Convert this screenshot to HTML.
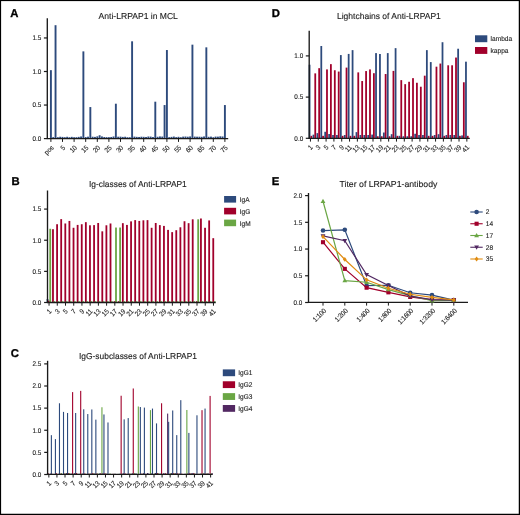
<!DOCTYPE html>
<html><head><meta charset="utf-8"><style>
html,body{margin:0;padding:0;background:#fff;}
svg{display:block;will-change:transform;}
</style></head><body>
<svg width="520" height="515" viewBox="0 0 520 515" font-family="Liberation Sans, sans-serif">
<rect x="0" y="0" width="520" height="515" fill="#000"/>
<rect x="1.1" y="1.1" width="517.65" height="512.65" fill="#fff"/>
<text x="10.30" y="17.00" font-size="11.3" text-anchor="start" text-rendering="geometricPrecision" font-weight="bold" fill="#000" stroke="#000" stroke-width="0.3">A</text>
<text x="98.60" y="19.00" font-size="8.6" text-anchor="start" text-rendering="geometricPrecision" font-weight="normal" fill="#222" textLength="79.3" lengthAdjust="spacingAndGlyphs" stroke="#222" stroke-width="0.12">Anti-LRPAP1 in MCL</text>
<rect x="49.95" y="70.16" width="1.90" height="68.44" fill="#2d4a7c"/>
<rect x="52.27" y="137.12" width="1.90" height="1.48" fill="#2d4a7c"/>
<rect x="54.59" y="25.20" width="1.90" height="113.40" fill="#2d4a7c"/>
<rect x="56.91" y="137.19" width="1.90" height="1.41" fill="#2d4a7c"/>
<rect x="59.23" y="136.75" width="1.90" height="1.85" fill="#2d4a7c"/>
<rect x="61.55" y="136.91" width="1.90" height="1.69" fill="#2d4a7c"/>
<rect x="63.87" y="137.20" width="1.90" height="1.40" fill="#2d4a7c"/>
<rect x="66.19" y="136.78" width="1.90" height="1.82" fill="#2d4a7c"/>
<rect x="68.51" y="137.22" width="1.90" height="1.38" fill="#2d4a7c"/>
<rect x="70.83" y="136.85" width="1.90" height="1.75" fill="#2d4a7c"/>
<rect x="73.15" y="137.19" width="1.90" height="1.41" fill="#2d4a7c"/>
<rect x="75.47" y="137.17" width="1.90" height="1.43" fill="#2d4a7c"/>
<rect x="77.79" y="136.86" width="1.90" height="1.74" fill="#2d4a7c"/>
<rect x="80.11" y="136.48" width="1.90" height="2.12" fill="#2d4a7c"/>
<rect x="82.43" y="51.37" width="1.90" height="87.23" fill="#2d4a7c"/>
<rect x="84.75" y="137.05" width="1.90" height="1.55" fill="#2d4a7c"/>
<rect x="87.07" y="136.67" width="1.90" height="1.93" fill="#2d4a7c"/>
<rect x="89.39" y="107.06" width="1.90" height="31.54" fill="#2d4a7c"/>
<rect x="91.71" y="136.72" width="1.90" height="1.88" fill="#2d4a7c"/>
<rect x="94.03" y="136.89" width="1.90" height="1.71" fill="#2d4a7c"/>
<rect x="96.35" y="136.34" width="1.90" height="2.26" fill="#2d4a7c"/>
<rect x="98.67" y="135.25" width="1.90" height="3.35" fill="#2d4a7c"/>
<rect x="100.99" y="136.45" width="1.90" height="2.15" fill="#2d4a7c"/>
<rect x="103.31" y="136.99" width="1.90" height="1.61" fill="#2d4a7c"/>
<rect x="105.63" y="137.12" width="1.90" height="1.48" fill="#2d4a7c"/>
<rect x="107.95" y="137.15" width="1.90" height="1.45" fill="#2d4a7c"/>
<rect x="110.27" y="136.97" width="1.90" height="1.63" fill="#2d4a7c"/>
<rect x="112.59" y="136.49" width="1.90" height="2.11" fill="#2d4a7c"/>
<rect x="114.91" y="103.71" width="1.90" height="34.89" fill="#2d4a7c"/>
<rect x="117.23" y="136.71" width="1.90" height="1.89" fill="#2d4a7c"/>
<rect x="119.55" y="136.66" width="1.90" height="1.94" fill="#2d4a7c"/>
<rect x="121.87" y="136.91" width="1.90" height="1.69" fill="#2d4a7c"/>
<rect x="124.19" y="136.74" width="1.90" height="1.86" fill="#2d4a7c"/>
<rect x="126.51" y="137.20" width="1.90" height="1.40" fill="#2d4a7c"/>
<rect x="128.83" y="137.20" width="1.90" height="1.40" fill="#2d4a7c"/>
<rect x="131.15" y="41.31" width="1.90" height="97.29" fill="#2d4a7c"/>
<rect x="133.47" y="136.62" width="1.90" height="1.98" fill="#2d4a7c"/>
<rect x="135.79" y="136.86" width="1.90" height="1.74" fill="#2d4a7c"/>
<rect x="138.11" y="136.96" width="1.90" height="1.64" fill="#2d4a7c"/>
<rect x="140.43" y="136.71" width="1.90" height="1.89" fill="#2d4a7c"/>
<rect x="142.75" y="136.83" width="1.90" height="1.77" fill="#2d4a7c"/>
<rect x="145.07" y="136.98" width="1.90" height="1.62" fill="#2d4a7c"/>
<rect x="147.39" y="136.51" width="1.90" height="2.09" fill="#2d4a7c"/>
<rect x="149.71" y="136.60" width="1.90" height="2.00" fill="#2d4a7c"/>
<rect x="152.03" y="137.03" width="1.90" height="1.57" fill="#2d4a7c"/>
<rect x="154.35" y="101.69" width="1.90" height="36.91" fill="#2d4a7c"/>
<rect x="156.67" y="136.76" width="1.90" height="1.84" fill="#2d4a7c"/>
<rect x="158.99" y="136.44" width="1.90" height="2.16" fill="#2d4a7c"/>
<rect x="161.31" y="136.57" width="1.90" height="2.03" fill="#2d4a7c"/>
<rect x="163.63" y="105.05" width="1.90" height="33.55" fill="#2d4a7c"/>
<rect x="165.95" y="50.03" width="1.90" height="88.57" fill="#2d4a7c"/>
<rect x="168.27" y="137.15" width="1.90" height="1.45" fill="#2d4a7c"/>
<rect x="170.59" y="136.87" width="1.90" height="1.73" fill="#2d4a7c"/>
<rect x="172.91" y="136.55" width="1.90" height="2.05" fill="#2d4a7c"/>
<rect x="175.23" y="137.12" width="1.90" height="1.48" fill="#2d4a7c"/>
<rect x="177.55" y="136.80" width="1.90" height="1.80" fill="#2d4a7c"/>
<rect x="179.87" y="137.22" width="1.90" height="1.38" fill="#2d4a7c"/>
<rect x="182.19" y="136.63" width="1.90" height="1.97" fill="#2d4a7c"/>
<rect x="184.51" y="136.54" width="1.90" height="2.06" fill="#2d4a7c"/>
<rect x="186.83" y="136.72" width="1.90" height="1.88" fill="#2d4a7c"/>
<rect x="189.15" y="136.44" width="1.90" height="2.16" fill="#2d4a7c"/>
<rect x="191.47" y="44.66" width="1.90" height="93.94" fill="#2d4a7c"/>
<rect x="193.79" y="136.60" width="1.90" height="2.00" fill="#2d4a7c"/>
<rect x="196.11" y="136.70" width="1.90" height="1.90" fill="#2d4a7c"/>
<rect x="198.43" y="136.71" width="1.90" height="1.89" fill="#2d4a7c"/>
<rect x="200.75" y="136.83" width="1.90" height="1.77" fill="#2d4a7c"/>
<rect x="203.07" y="136.47" width="1.90" height="2.13" fill="#2d4a7c"/>
<rect x="205.39" y="47.34" width="1.90" height="91.26" fill="#2d4a7c"/>
<rect x="207.71" y="136.81" width="1.90" height="1.79" fill="#2d4a7c"/>
<rect x="210.03" y="136.63" width="1.90" height="1.97" fill="#2d4a7c"/>
<rect x="212.35" y="137.20" width="1.90" height="1.40" fill="#2d4a7c"/>
<rect x="214.67" y="136.60" width="1.90" height="2.00" fill="#2d4a7c"/>
<rect x="216.99" y="136.65" width="1.90" height="1.95" fill="#2d4a7c"/>
<rect x="219.31" y="136.33" width="1.90" height="2.27" fill="#2d4a7c"/>
<rect x="221.63" y="136.49" width="1.90" height="2.11" fill="#2d4a7c"/>
<rect x="223.95" y="105.05" width="1.90" height="33.55" fill="#2d4a7c"/>
<line x1="47.30" y1="18.30" x2="47.30" y2="139.10" stroke="#1a1a1a" stroke-width="1.35"/>
<line x1="43.90" y1="138.60" x2="47.30" y2="138.60" stroke="#1a1a1a" stroke-width="1.2"/>
<text transform="translate(41.40 140.90) scale(0.92 1)" font-size="6.9" text-anchor="end" text-rendering="geometricPrecision" font-weight="normal" fill="#222" stroke="#222" stroke-width="0.12">0.0</text>
<line x1="43.90" y1="105.05" x2="47.30" y2="105.05" stroke="#1a1a1a" stroke-width="1.2"/>
<text transform="translate(41.40 107.35) scale(0.92 1)" font-size="6.9" text-anchor="end" text-rendering="geometricPrecision" font-weight="normal" fill="#222" stroke="#222" stroke-width="0.12">0.5</text>
<line x1="43.90" y1="71.50" x2="47.30" y2="71.50" stroke="#1a1a1a" stroke-width="1.2"/>
<text transform="translate(41.40 73.80) scale(0.92 1)" font-size="6.9" text-anchor="end" text-rendering="geometricPrecision" font-weight="normal" fill="#222" stroke="#222" stroke-width="0.12">1.0</text>
<line x1="43.90" y1="37.95" x2="47.30" y2="37.95" stroke="#1a1a1a" stroke-width="1.2"/>
<text transform="translate(41.40 40.25) scale(0.92 1)" font-size="6.9" text-anchor="end" text-rendering="geometricPrecision" font-weight="normal" fill="#222" stroke="#222" stroke-width="0.12">1.5</text>
<line x1="46.80" y1="138.60" x2="228.20" y2="138.60" stroke="#1a1a1a" stroke-width="1.35"/>
<line x1="50.90" y1="138.60" x2="50.90" y2="141.90" stroke="#1a1a1a" stroke-width="1"/>
<text font-size="6.9" text-anchor="end" text-rendering="geometricPrecision" fill="#222" stroke="#222" stroke-width="0.12" transform="translate(54.20 148.20) rotate(-45) scale(0.9 1)">pos</text>
<line x1="62.50" y1="138.60" x2="62.50" y2="141.90" stroke="#1a1a1a" stroke-width="1"/>
<text font-size="6.9" text-anchor="end" text-rendering="geometricPrecision" fill="#222" stroke="#222" stroke-width="0.12" transform="translate(65.80 148.20) rotate(-45) scale(0.9 1)">5</text>
<line x1="74.10" y1="138.60" x2="74.10" y2="141.90" stroke="#1a1a1a" stroke-width="1"/>
<text font-size="6.9" text-anchor="end" text-rendering="geometricPrecision" fill="#222" stroke="#222" stroke-width="0.12" transform="translate(77.40 148.20) rotate(-45) scale(0.9 1)">10</text>
<line x1="85.70" y1="138.60" x2="85.70" y2="141.90" stroke="#1a1a1a" stroke-width="1"/>
<text font-size="6.9" text-anchor="end" text-rendering="geometricPrecision" fill="#222" stroke="#222" stroke-width="0.12" transform="translate(89.00 148.20) rotate(-45) scale(0.9 1)">15</text>
<line x1="97.30" y1="138.60" x2="97.30" y2="141.90" stroke="#1a1a1a" stroke-width="1"/>
<text font-size="6.9" text-anchor="end" text-rendering="geometricPrecision" fill="#222" stroke="#222" stroke-width="0.12" transform="translate(100.60 148.20) rotate(-45) scale(0.9 1)">20</text>
<line x1="108.90" y1="138.60" x2="108.90" y2="141.90" stroke="#1a1a1a" stroke-width="1"/>
<text font-size="6.9" text-anchor="end" text-rendering="geometricPrecision" fill="#222" stroke="#222" stroke-width="0.12" transform="translate(112.20 148.20) rotate(-45) scale(0.9 1)">25</text>
<line x1="120.50" y1="138.60" x2="120.50" y2="141.90" stroke="#1a1a1a" stroke-width="1"/>
<text font-size="6.9" text-anchor="end" text-rendering="geometricPrecision" fill="#222" stroke="#222" stroke-width="0.12" transform="translate(123.80 148.20) rotate(-45) scale(0.9 1)">30</text>
<line x1="132.10" y1="138.60" x2="132.10" y2="141.90" stroke="#1a1a1a" stroke-width="1"/>
<text font-size="6.9" text-anchor="end" text-rendering="geometricPrecision" fill="#222" stroke="#222" stroke-width="0.12" transform="translate(135.40 148.20) rotate(-45) scale(0.9 1)">35</text>
<line x1="143.70" y1="138.60" x2="143.70" y2="141.90" stroke="#1a1a1a" stroke-width="1"/>
<text font-size="6.9" text-anchor="end" text-rendering="geometricPrecision" fill="#222" stroke="#222" stroke-width="0.12" transform="translate(147.00 148.20) rotate(-45) scale(0.9 1)">40</text>
<line x1="155.30" y1="138.60" x2="155.30" y2="141.90" stroke="#1a1a1a" stroke-width="1"/>
<text font-size="6.9" text-anchor="end" text-rendering="geometricPrecision" fill="#222" stroke="#222" stroke-width="0.12" transform="translate(158.60 148.20) rotate(-45) scale(0.9 1)">45</text>
<line x1="166.90" y1="138.60" x2="166.90" y2="141.90" stroke="#1a1a1a" stroke-width="1"/>
<text font-size="6.9" text-anchor="end" text-rendering="geometricPrecision" fill="#222" stroke="#222" stroke-width="0.12" transform="translate(170.20 148.20) rotate(-45) scale(0.9 1)">50</text>
<line x1="178.50" y1="138.60" x2="178.50" y2="141.90" stroke="#1a1a1a" stroke-width="1"/>
<text font-size="6.9" text-anchor="end" text-rendering="geometricPrecision" fill="#222" stroke="#222" stroke-width="0.12" transform="translate(181.80 148.20) rotate(-45) scale(0.9 1)">55</text>
<line x1="190.10" y1="138.60" x2="190.10" y2="141.90" stroke="#1a1a1a" stroke-width="1"/>
<text font-size="6.9" text-anchor="end" text-rendering="geometricPrecision" fill="#222" stroke="#222" stroke-width="0.12" transform="translate(193.40 148.20) rotate(-45) scale(0.9 1)">60</text>
<line x1="201.70" y1="138.60" x2="201.70" y2="141.90" stroke="#1a1a1a" stroke-width="1"/>
<text font-size="6.9" text-anchor="end" text-rendering="geometricPrecision" fill="#222" stroke="#222" stroke-width="0.12" transform="translate(205.00 148.20) rotate(-45) scale(0.9 1)">65</text>
<line x1="213.30" y1="138.60" x2="213.30" y2="141.90" stroke="#1a1a1a" stroke-width="1"/>
<text font-size="6.9" text-anchor="end" text-rendering="geometricPrecision" fill="#222" stroke="#222" stroke-width="0.12" transform="translate(216.60 148.20) rotate(-45) scale(0.9 1)">70</text>
<line x1="224.90" y1="138.60" x2="224.90" y2="141.90" stroke="#1a1a1a" stroke-width="1"/>
<text font-size="6.9" text-anchor="end" text-rendering="geometricPrecision" fill="#222" stroke="#222" stroke-width="0.12" transform="translate(228.20 148.20) rotate(-45) scale(0.9 1)">75</text>
<text x="271.80" y="17.00" font-size="11.3" text-anchor="start" text-rendering="geometricPrecision" font-weight="bold" fill="#000" stroke="#000" stroke-width="0.3">D</text>
<text x="337.00" y="18.70" font-size="8.6" text-anchor="start" text-rendering="geometricPrecision" font-weight="normal" fill="#222" textLength="103.8" lengthAdjust="spacingAndGlyphs" stroke="#222" stroke-width="0.12">Lightchains of Anti-LRPAP1</text>
<rect x="308.67" y="64.72" width="1.78" height="73.58" fill="#2d4a7c"/>
<rect x="310.45" y="135.83" width="1.78" height="2.47" fill="#a1002b"/>
<rect x="312.58" y="134.67" width="1.78" height="3.63" fill="#2d4a7c"/>
<rect x="314.36" y="73.37" width="1.78" height="64.93" fill="#a1002b"/>
<rect x="316.49" y="133.11" width="1.78" height="5.19" fill="#2d4a7c"/>
<rect x="318.27" y="68.18" width="1.78" height="70.12" fill="#a1002b"/>
<rect x="320.40" y="46.01" width="1.78" height="92.29" fill="#2d4a7c"/>
<rect x="322.18" y="135.83" width="1.78" height="2.47" fill="#a1002b"/>
<rect x="324.31" y="131.79" width="1.78" height="6.51" fill="#2d4a7c"/>
<rect x="326.09" y="69.41" width="1.78" height="68.89" fill="#a1002b"/>
<rect x="328.22" y="134.02" width="1.78" height="4.28" fill="#2d4a7c"/>
<rect x="330.00" y="64.14" width="1.78" height="74.16" fill="#a1002b"/>
<rect x="332.13" y="135.00" width="1.78" height="3.30" fill="#2d4a7c"/>
<rect x="333.91" y="70.24" width="1.78" height="68.06" fill="#a1002b"/>
<rect x="336.04" y="135.00" width="1.78" height="3.30" fill="#2d4a7c"/>
<rect x="337.82" y="71.56" width="1.78" height="66.74" fill="#a1002b"/>
<rect x="339.95" y="55.08" width="1.78" height="83.22" fill="#2d4a7c"/>
<rect x="341.73" y="135.83" width="1.78" height="2.47" fill="#a1002b"/>
<rect x="343.86" y="135.00" width="1.78" height="3.30" fill="#2d4a7c"/>
<rect x="345.64" y="67.60" width="1.78" height="70.70" fill="#a1002b"/>
<rect x="347.77" y="53.92" width="1.78" height="84.38" fill="#2d4a7c"/>
<rect x="349.55" y="135.83" width="1.78" height="2.47" fill="#a1002b"/>
<rect x="351.68" y="50.13" width="1.78" height="88.17" fill="#2d4a7c"/>
<rect x="353.46" y="135.83" width="1.78" height="2.47" fill="#a1002b"/>
<rect x="355.59" y="132.12" width="1.78" height="6.18" fill="#2d4a7c"/>
<rect x="357.37" y="72.38" width="1.78" height="65.92" fill="#a1002b"/>
<rect x="359.50" y="135.00" width="1.78" height="3.30" fill="#2d4a7c"/>
<rect x="361.28" y="81.03" width="1.78" height="57.27" fill="#a1002b"/>
<rect x="363.41" y="135.00" width="1.78" height="3.30" fill="#2d4a7c"/>
<rect x="365.19" y="71.06" width="1.78" height="67.24" fill="#a1002b"/>
<rect x="367.32" y="135.00" width="1.78" height="3.30" fill="#2d4a7c"/>
<rect x="369.10" y="69.41" width="1.78" height="68.89" fill="#a1002b"/>
<rect x="371.23" y="134.59" width="1.78" height="3.71" fill="#2d4a7c"/>
<rect x="373.01" y="73.20" width="1.78" height="65.10" fill="#a1002b"/>
<rect x="375.14" y="53.10" width="1.78" height="85.20" fill="#2d4a7c"/>
<rect x="376.92" y="136.24" width="1.78" height="2.06" fill="#a1002b"/>
<rect x="379.05" y="54.00" width="1.78" height="84.30" fill="#2d4a7c"/>
<rect x="380.83" y="136.24" width="1.78" height="2.06" fill="#a1002b"/>
<rect x="382.96" y="132.53" width="1.78" height="5.77" fill="#2d4a7c"/>
<rect x="384.74" y="74.03" width="1.78" height="64.27" fill="#a1002b"/>
<rect x="386.87" y="53.10" width="1.78" height="85.20" fill="#2d4a7c"/>
<rect x="388.65" y="136.24" width="1.78" height="2.06" fill="#a1002b"/>
<rect x="390.78" y="134.18" width="1.78" height="4.12" fill="#2d4a7c"/>
<rect x="392.56" y="70.90" width="1.78" height="67.40" fill="#a1002b"/>
<rect x="394.69" y="48.15" width="1.78" height="90.15" fill="#2d4a7c"/>
<rect x="396.47" y="135.83" width="1.78" height="2.47" fill="#a1002b"/>
<rect x="398.60" y="135.83" width="1.78" height="2.47" fill="#2d4a7c"/>
<rect x="400.38" y="80.13" width="1.78" height="58.17" fill="#a1002b"/>
<rect x="402.51" y="136.24" width="1.78" height="2.06" fill="#2d4a7c"/>
<rect x="404.29" y="84.16" width="1.78" height="54.14" fill="#a1002b"/>
<rect x="406.42" y="136.24" width="1.78" height="2.06" fill="#2d4a7c"/>
<rect x="408.20" y="81.77" width="1.78" height="56.53" fill="#a1002b"/>
<rect x="410.33" y="136.24" width="1.78" height="2.06" fill="#2d4a7c"/>
<rect x="412.11" y="78.15" width="1.78" height="60.15" fill="#a1002b"/>
<rect x="414.24" y="133.77" width="1.78" height="4.53" fill="#2d4a7c"/>
<rect x="416.02" y="82.76" width="1.78" height="55.54" fill="#a1002b"/>
<rect x="418.15" y="135.00" width="1.78" height="3.30" fill="#2d4a7c"/>
<rect x="419.93" y="86.72" width="1.78" height="51.58" fill="#a1002b"/>
<rect x="422.06" y="135.00" width="1.78" height="3.30" fill="#2d4a7c"/>
<rect x="423.84" y="75.68" width="1.78" height="62.62" fill="#a1002b"/>
<rect x="425.97" y="50.13" width="1.78" height="88.17" fill="#2d4a7c"/>
<rect x="427.75" y="135.83" width="1.78" height="2.47" fill="#a1002b"/>
<rect x="429.88" y="62.08" width="1.78" height="76.22" fill="#2d4a7c"/>
<rect x="431.66" y="135.83" width="1.78" height="2.47" fill="#a1002b"/>
<rect x="433.79" y="135.00" width="1.78" height="3.30" fill="#2d4a7c"/>
<rect x="435.57" y="66.69" width="1.78" height="71.61" fill="#a1002b"/>
<rect x="437.70" y="134.18" width="1.78" height="4.12" fill="#2d4a7c"/>
<rect x="439.48" y="63.56" width="1.78" height="74.74" fill="#a1002b"/>
<rect x="441.61" y="42.22" width="1.78" height="96.08" fill="#2d4a7c"/>
<rect x="443.39" y="135.83" width="1.78" height="2.47" fill="#a1002b"/>
<rect x="445.52" y="135.00" width="1.78" height="3.30" fill="#2d4a7c"/>
<rect x="447.30" y="65.29" width="1.78" height="73.01" fill="#a1002b"/>
<rect x="449.43" y="135.00" width="1.78" height="3.30" fill="#2d4a7c"/>
<rect x="451.21" y="65.29" width="1.78" height="73.01" fill="#a1002b"/>
<rect x="453.34" y="135.00" width="1.78" height="3.30" fill="#2d4a7c"/>
<rect x="455.12" y="57.55" width="1.78" height="80.75" fill="#a1002b"/>
<rect x="457.25" y="48.73" width="1.78" height="89.57" fill="#2d4a7c"/>
<rect x="459.03" y="135.83" width="1.78" height="2.47" fill="#a1002b"/>
<rect x="461.16" y="135.42" width="1.78" height="2.88" fill="#2d4a7c"/>
<rect x="462.94" y="82.27" width="1.78" height="56.03" fill="#a1002b"/>
<rect x="465.07" y="61.67" width="1.78" height="76.63" fill="#2d4a7c"/>
<rect x="466.85" y="135.83" width="1.78" height="2.47" fill="#a1002b"/>
<line x1="309.20" y1="30.80" x2="309.20" y2="138.80" stroke="#1a1a1a" stroke-width="1.35"/>
<line x1="305.80" y1="138.30" x2="309.20" y2="138.30" stroke="#1a1a1a" stroke-width="1.2"/>
<text transform="translate(303.20 140.60) scale(0.92 1)" font-size="6.9" text-anchor="end" text-rendering="geometricPrecision" font-weight="normal" fill="#222" stroke="#222" stroke-width="0.12">0.0</text>
<line x1="305.80" y1="97.10" x2="309.20" y2="97.10" stroke="#1a1a1a" stroke-width="1.2"/>
<text transform="translate(303.20 99.40) scale(0.92 1)" font-size="6.9" text-anchor="end" text-rendering="geometricPrecision" font-weight="normal" fill="#222" stroke="#222" stroke-width="0.12">0.5</text>
<line x1="305.80" y1="55.90" x2="309.20" y2="55.90" stroke="#1a1a1a" stroke-width="1.2"/>
<text transform="translate(303.20 58.20) scale(0.92 1)" font-size="6.9" text-anchor="end" text-rendering="geometricPrecision" font-weight="normal" fill="#222" stroke="#222" stroke-width="0.12">1.0</text>
<line x1="308.70" y1="138.40" x2="469.80" y2="138.40" stroke="#1a1a1a" stroke-width="1.35"/>
<line x1="310.45" y1="138.40" x2="310.45" y2="141.60" stroke="#1a1a1a" stroke-width="1"/>
<text font-size="6.9" text-anchor="end" text-rendering="geometricPrecision" fill="#222" stroke="#222" stroke-width="0.12" transform="translate(313.25 147.80) rotate(-45) scale(0.9 1)">1</text>
<line x1="318.27" y1="138.40" x2="318.27" y2="141.60" stroke="#1a1a1a" stroke-width="1"/>
<text font-size="6.9" text-anchor="end" text-rendering="geometricPrecision" fill="#222" stroke="#222" stroke-width="0.12" transform="translate(321.07 147.80) rotate(-45) scale(0.9 1)">3</text>
<line x1="326.09" y1="138.40" x2="326.09" y2="141.60" stroke="#1a1a1a" stroke-width="1"/>
<text font-size="6.9" text-anchor="end" text-rendering="geometricPrecision" fill="#222" stroke="#222" stroke-width="0.12" transform="translate(328.89 147.80) rotate(-45) scale(0.9 1)">5</text>
<line x1="333.91" y1="138.40" x2="333.91" y2="141.60" stroke="#1a1a1a" stroke-width="1"/>
<text font-size="6.9" text-anchor="end" text-rendering="geometricPrecision" fill="#222" stroke="#222" stroke-width="0.12" transform="translate(336.71 147.80) rotate(-45) scale(0.9 1)">7</text>
<line x1="341.73" y1="138.40" x2="341.73" y2="141.60" stroke="#1a1a1a" stroke-width="1"/>
<text font-size="6.9" text-anchor="end" text-rendering="geometricPrecision" fill="#222" stroke="#222" stroke-width="0.12" transform="translate(344.53 147.80) rotate(-45) scale(0.9 1)">9</text>
<line x1="349.55" y1="138.40" x2="349.55" y2="141.60" stroke="#1a1a1a" stroke-width="1"/>
<text font-size="6.9" text-anchor="end" text-rendering="geometricPrecision" fill="#222" stroke="#222" stroke-width="0.12" transform="translate(352.35 147.80) rotate(-45) scale(0.9 1)">11</text>
<line x1="357.37" y1="138.40" x2="357.37" y2="141.60" stroke="#1a1a1a" stroke-width="1"/>
<text font-size="6.9" text-anchor="end" text-rendering="geometricPrecision" fill="#222" stroke="#222" stroke-width="0.12" transform="translate(360.17 147.80) rotate(-45) scale(0.9 1)">13</text>
<line x1="365.19" y1="138.40" x2="365.19" y2="141.60" stroke="#1a1a1a" stroke-width="1"/>
<text font-size="6.9" text-anchor="end" text-rendering="geometricPrecision" fill="#222" stroke="#222" stroke-width="0.12" transform="translate(367.99 147.80) rotate(-45) scale(0.9 1)">15</text>
<line x1="373.01" y1="138.40" x2="373.01" y2="141.60" stroke="#1a1a1a" stroke-width="1"/>
<text font-size="6.9" text-anchor="end" text-rendering="geometricPrecision" fill="#222" stroke="#222" stroke-width="0.12" transform="translate(375.81 147.80) rotate(-45) scale(0.9 1)">17</text>
<line x1="380.83" y1="138.40" x2="380.83" y2="141.60" stroke="#1a1a1a" stroke-width="1"/>
<text font-size="6.9" text-anchor="end" text-rendering="geometricPrecision" fill="#222" stroke="#222" stroke-width="0.12" transform="translate(383.63 147.80) rotate(-45) scale(0.9 1)">19</text>
<line x1="388.65" y1="138.40" x2="388.65" y2="141.60" stroke="#1a1a1a" stroke-width="1"/>
<text font-size="6.9" text-anchor="end" text-rendering="geometricPrecision" fill="#222" stroke="#222" stroke-width="0.12" transform="translate(391.45 147.80) rotate(-45) scale(0.9 1)">21</text>
<line x1="396.47" y1="138.40" x2="396.47" y2="141.60" stroke="#1a1a1a" stroke-width="1"/>
<text font-size="6.9" text-anchor="end" text-rendering="geometricPrecision" fill="#222" stroke="#222" stroke-width="0.12" transform="translate(399.27 147.80) rotate(-45) scale(0.9 1)">23</text>
<line x1="404.29" y1="138.40" x2="404.29" y2="141.60" stroke="#1a1a1a" stroke-width="1"/>
<text font-size="6.9" text-anchor="end" text-rendering="geometricPrecision" fill="#222" stroke="#222" stroke-width="0.12" transform="translate(407.09 147.80) rotate(-45) scale(0.9 1)">25</text>
<line x1="412.11" y1="138.40" x2="412.11" y2="141.60" stroke="#1a1a1a" stroke-width="1"/>
<text font-size="6.9" text-anchor="end" text-rendering="geometricPrecision" fill="#222" stroke="#222" stroke-width="0.12" transform="translate(414.91 147.80) rotate(-45) scale(0.9 1)">27</text>
<line x1="419.93" y1="138.40" x2="419.93" y2="141.60" stroke="#1a1a1a" stroke-width="1"/>
<text font-size="6.9" text-anchor="end" text-rendering="geometricPrecision" fill="#222" stroke="#222" stroke-width="0.12" transform="translate(422.73 147.80) rotate(-45) scale(0.9 1)">29</text>
<line x1="427.75" y1="138.40" x2="427.75" y2="141.60" stroke="#1a1a1a" stroke-width="1"/>
<text font-size="6.9" text-anchor="end" text-rendering="geometricPrecision" fill="#222" stroke="#222" stroke-width="0.12" transform="translate(430.55 147.80) rotate(-45) scale(0.9 1)">31</text>
<line x1="435.57" y1="138.40" x2="435.57" y2="141.60" stroke="#1a1a1a" stroke-width="1"/>
<text font-size="6.9" text-anchor="end" text-rendering="geometricPrecision" fill="#222" stroke="#222" stroke-width="0.12" transform="translate(438.37 147.80) rotate(-45) scale(0.9 1)">33</text>
<line x1="443.39" y1="138.40" x2="443.39" y2="141.60" stroke="#1a1a1a" stroke-width="1"/>
<text font-size="6.9" text-anchor="end" text-rendering="geometricPrecision" fill="#222" stroke="#222" stroke-width="0.12" transform="translate(446.19 147.80) rotate(-45) scale(0.9 1)">35</text>
<line x1="451.21" y1="138.40" x2="451.21" y2="141.60" stroke="#1a1a1a" stroke-width="1"/>
<text font-size="6.9" text-anchor="end" text-rendering="geometricPrecision" fill="#222" stroke="#222" stroke-width="0.12" transform="translate(454.01 147.80) rotate(-45) scale(0.9 1)">37</text>
<line x1="459.03" y1="138.40" x2="459.03" y2="141.60" stroke="#1a1a1a" stroke-width="1"/>
<text font-size="6.9" text-anchor="end" text-rendering="geometricPrecision" fill="#222" stroke="#222" stroke-width="0.12" transform="translate(461.83 147.80) rotate(-45) scale(0.9 1)">39</text>
<line x1="466.85" y1="138.40" x2="466.85" y2="141.60" stroke="#1a1a1a" stroke-width="1"/>
<text font-size="6.9" text-anchor="end" text-rendering="geometricPrecision" fill="#222" stroke="#222" stroke-width="0.12" transform="translate(469.65 147.80) rotate(-45) scale(0.9 1)">41</text>
<rect x="475.00" y="35.30" width="12.30" height="6.90" fill="#2d4a7c"/>
<text transform="translate(490.60 41.20) scale(0.95 1)" font-size="6.9" text-anchor="start" text-rendering="geometricPrecision" font-weight="normal" fill="#222" stroke="#222" stroke-width="0.12">lambda</text>
<rect x="475.00" y="47.00" width="12.30" height="6.90" fill="#a1002b"/>
<text transform="translate(490.60 52.90) scale(0.95 1)" font-size="6.9" text-anchor="start" text-rendering="geometricPrecision" font-weight="normal" fill="#222" stroke="#222" stroke-width="0.12">kappa</text>
<text x="11.50" y="185.30" font-size="11.3" text-anchor="start" text-rendering="geometricPrecision" font-weight="bold" fill="#000" stroke="#000" stroke-width="0.3">B</text>
<text x="89.00" y="187.00" font-size="8.6" text-anchor="start" text-rendering="geometricPrecision" font-weight="normal" fill="#222" textLength="97.8" lengthAdjust="spacingAndGlyphs" stroke="#222" stroke-width="0.12">Ig-classes of Anti-LRPAP1</text>
<rect x="46.59" y="299.01" width="1.80" height="3.49" fill="#2d4a7c"/>
<rect x="47.96" y="300.63" width="1.80" height="1.87" fill="#a1002b"/>
<rect x="49.33" y="228.77" width="1.80" height="73.73" fill="#6aa644"/>
<rect x="50.70" y="302.00" width="1.80" height="0.50" fill="#2d4a7c"/>
<rect x="52.07" y="229.21" width="1.80" height="73.29" fill="#a1002b"/>
<rect x="53.44" y="301.25" width="1.80" height="1.25" fill="#6aa644"/>
<rect x="54.81" y="302.00" width="1.80" height="0.50" fill="#2d4a7c"/>
<rect x="56.18" y="224.23" width="1.80" height="78.27" fill="#a1002b"/>
<rect x="57.55" y="301.25" width="1.80" height="1.25" fill="#6aa644"/>
<rect x="58.92" y="302.00" width="1.80" height="0.50" fill="#2d4a7c"/>
<rect x="60.29" y="219.12" width="1.80" height="83.38" fill="#a1002b"/>
<rect x="61.66" y="301.25" width="1.80" height="1.25" fill="#6aa644"/>
<rect x="63.03" y="302.00" width="1.80" height="0.50" fill="#2d4a7c"/>
<rect x="64.40" y="223.48" width="1.80" height="79.02" fill="#a1002b"/>
<rect x="65.77" y="301.25" width="1.80" height="1.25" fill="#6aa644"/>
<rect x="67.14" y="302.00" width="1.80" height="0.50" fill="#2d4a7c"/>
<rect x="68.51" y="220.93" width="1.80" height="81.57" fill="#a1002b"/>
<rect x="69.88" y="301.25" width="1.80" height="1.25" fill="#6aa644"/>
<rect x="71.25" y="302.00" width="1.80" height="0.50" fill="#2d4a7c"/>
<rect x="72.62" y="227.78" width="1.80" height="74.72" fill="#a1002b"/>
<rect x="73.99" y="301.25" width="1.80" height="1.25" fill="#6aa644"/>
<rect x="75.36" y="302.00" width="1.80" height="0.50" fill="#2d4a7c"/>
<rect x="76.73" y="224.91" width="1.80" height="77.59" fill="#a1002b"/>
<rect x="78.10" y="301.25" width="1.80" height="1.25" fill="#6aa644"/>
<rect x="79.47" y="302.00" width="1.80" height="0.50" fill="#2d4a7c"/>
<rect x="80.84" y="224.23" width="1.80" height="78.27" fill="#a1002b"/>
<rect x="82.21" y="301.25" width="1.80" height="1.25" fill="#6aa644"/>
<rect x="83.58" y="302.00" width="1.80" height="0.50" fill="#2d4a7c"/>
<rect x="84.95" y="222.17" width="1.80" height="80.33" fill="#a1002b"/>
<rect x="86.32" y="301.25" width="1.80" height="1.25" fill="#6aa644"/>
<rect x="87.69" y="302.00" width="1.80" height="0.50" fill="#2d4a7c"/>
<rect x="89.06" y="225.29" width="1.80" height="77.21" fill="#a1002b"/>
<rect x="90.43" y="301.25" width="1.80" height="1.25" fill="#6aa644"/>
<rect x="91.80" y="302.00" width="1.80" height="0.50" fill="#2d4a7c"/>
<rect x="93.17" y="225.10" width="1.80" height="77.40" fill="#a1002b"/>
<rect x="94.54" y="301.25" width="1.80" height="1.25" fill="#6aa644"/>
<rect x="95.91" y="302.00" width="1.80" height="0.50" fill="#2d4a7c"/>
<rect x="97.28" y="222.98" width="1.80" height="79.52" fill="#a1002b"/>
<rect x="98.65" y="301.25" width="1.80" height="1.25" fill="#6aa644"/>
<rect x="100.02" y="302.00" width="1.80" height="0.50" fill="#2d4a7c"/>
<rect x="101.39" y="231.33" width="1.80" height="71.17" fill="#a1002b"/>
<rect x="102.76" y="301.25" width="1.80" height="1.25" fill="#6aa644"/>
<rect x="104.13" y="302.00" width="1.80" height="0.50" fill="#2d4a7c"/>
<rect x="105.50" y="225.29" width="1.80" height="77.21" fill="#a1002b"/>
<rect x="106.87" y="301.25" width="1.80" height="1.25" fill="#6aa644"/>
<rect x="108.24" y="302.00" width="1.80" height="0.50" fill="#2d4a7c"/>
<rect x="109.61" y="223.48" width="1.80" height="79.02" fill="#a1002b"/>
<rect x="110.98" y="301.25" width="1.80" height="1.25" fill="#6aa644"/>
<rect x="112.35" y="302.00" width="1.80" height="0.50" fill="#2d4a7c"/>
<rect x="113.72" y="301.25" width="1.80" height="1.25" fill="#a1002b"/>
<rect x="115.09" y="227.53" width="1.80" height="74.97" fill="#6aa644"/>
<rect x="116.46" y="302.00" width="1.80" height="0.50" fill="#2d4a7c"/>
<rect x="117.83" y="301.25" width="1.80" height="1.25" fill="#a1002b"/>
<rect x="119.20" y="227.53" width="1.80" height="74.97" fill="#6aa644"/>
<rect x="120.57" y="302.00" width="1.80" height="0.50" fill="#2d4a7c"/>
<rect x="121.94" y="223.17" width="1.80" height="79.33" fill="#a1002b"/>
<rect x="123.31" y="301.25" width="1.80" height="1.25" fill="#6aa644"/>
<rect x="124.68" y="302.00" width="1.80" height="0.50" fill="#2d4a7c"/>
<rect x="126.05" y="224.91" width="1.80" height="77.59" fill="#a1002b"/>
<rect x="127.42" y="301.25" width="1.80" height="1.25" fill="#6aa644"/>
<rect x="128.79" y="302.00" width="1.80" height="0.50" fill="#2d4a7c"/>
<rect x="130.16" y="221.36" width="1.80" height="81.14" fill="#a1002b"/>
<rect x="131.53" y="301.25" width="1.80" height="1.25" fill="#6aa644"/>
<rect x="132.90" y="302.00" width="1.80" height="0.50" fill="#2d4a7c"/>
<rect x="134.27" y="220.12" width="1.80" height="82.38" fill="#a1002b"/>
<rect x="135.64" y="301.25" width="1.80" height="1.25" fill="#6aa644"/>
<rect x="137.01" y="302.00" width="1.80" height="0.50" fill="#2d4a7c"/>
<rect x="138.38" y="220.93" width="1.80" height="81.57" fill="#a1002b"/>
<rect x="139.75" y="301.25" width="1.80" height="1.25" fill="#6aa644"/>
<rect x="141.12" y="302.00" width="1.80" height="0.50" fill="#2d4a7c"/>
<rect x="142.49" y="220.30" width="1.80" height="82.20" fill="#a1002b"/>
<rect x="143.86" y="301.25" width="1.80" height="1.25" fill="#6aa644"/>
<rect x="145.23" y="302.00" width="1.80" height="0.50" fill="#2d4a7c"/>
<rect x="146.60" y="220.12" width="1.80" height="82.38" fill="#a1002b"/>
<rect x="147.97" y="301.25" width="1.80" height="1.25" fill="#6aa644"/>
<rect x="149.34" y="302.00" width="1.80" height="0.50" fill="#2d4a7c"/>
<rect x="150.71" y="227.78" width="1.80" height="74.72" fill="#a1002b"/>
<rect x="152.08" y="301.25" width="1.80" height="1.25" fill="#6aa644"/>
<rect x="153.45" y="302.00" width="1.80" height="0.50" fill="#2d4a7c"/>
<rect x="154.82" y="222.98" width="1.80" height="79.52" fill="#a1002b"/>
<rect x="156.19" y="301.25" width="1.80" height="1.25" fill="#6aa644"/>
<rect x="157.56" y="302.00" width="1.80" height="0.50" fill="#2d4a7c"/>
<rect x="158.93" y="225.10" width="1.80" height="77.40" fill="#a1002b"/>
<rect x="160.30" y="301.25" width="1.80" height="1.25" fill="#6aa644"/>
<rect x="161.67" y="302.00" width="1.80" height="0.50" fill="#2d4a7c"/>
<rect x="163.04" y="225.91" width="1.80" height="76.59" fill="#a1002b"/>
<rect x="164.41" y="301.25" width="1.80" height="1.25" fill="#6aa644"/>
<rect x="165.78" y="302.00" width="1.80" height="0.50" fill="#2d4a7c"/>
<rect x="167.15" y="229.89" width="1.80" height="72.61" fill="#a1002b"/>
<rect x="168.52" y="301.25" width="1.80" height="1.25" fill="#6aa644"/>
<rect x="169.89" y="302.00" width="1.80" height="0.50" fill="#2d4a7c"/>
<rect x="171.26" y="232.13" width="1.80" height="70.37" fill="#a1002b"/>
<rect x="172.63" y="301.25" width="1.80" height="1.25" fill="#6aa644"/>
<rect x="174.00" y="302.00" width="1.80" height="0.50" fill="#2d4a7c"/>
<rect x="175.37" y="230.20" width="1.80" height="72.30" fill="#a1002b"/>
<rect x="176.74" y="301.25" width="1.80" height="1.25" fill="#6aa644"/>
<rect x="178.11" y="302.00" width="1.80" height="0.50" fill="#2d4a7c"/>
<rect x="179.48" y="227.28" width="1.80" height="75.22" fill="#a1002b"/>
<rect x="180.85" y="301.25" width="1.80" height="1.25" fill="#6aa644"/>
<rect x="182.22" y="302.00" width="1.80" height="0.50" fill="#2d4a7c"/>
<rect x="183.59" y="221.24" width="1.80" height="81.26" fill="#a1002b"/>
<rect x="184.96" y="301.25" width="1.80" height="1.25" fill="#6aa644"/>
<rect x="186.33" y="302.00" width="1.80" height="0.50" fill="#2d4a7c"/>
<rect x="187.70" y="223.17" width="1.80" height="79.33" fill="#a1002b"/>
<rect x="189.07" y="301.25" width="1.80" height="1.25" fill="#6aa644"/>
<rect x="190.44" y="302.00" width="1.80" height="0.50" fill="#2d4a7c"/>
<rect x="191.81" y="219.31" width="1.80" height="83.19" fill="#a1002b"/>
<rect x="193.18" y="301.25" width="1.80" height="1.25" fill="#6aa644"/>
<rect x="194.55" y="302.00" width="1.80" height="0.50" fill="#2d4a7c"/>
<rect x="195.92" y="301.25" width="1.80" height="1.25" fill="#a1002b"/>
<rect x="197.29" y="219.31" width="1.80" height="83.19" fill="#6aa644"/>
<rect x="198.66" y="302.00" width="1.80" height="0.50" fill="#2d4a7c"/>
<rect x="200.03" y="218.50" width="1.80" height="84.00" fill="#a1002b"/>
<rect x="201.40" y="301.25" width="1.80" height="1.25" fill="#6aa644"/>
<rect x="202.77" y="302.00" width="1.80" height="0.50" fill="#2d4a7c"/>
<rect x="204.14" y="227.78" width="1.80" height="74.72" fill="#a1002b"/>
<rect x="205.51" y="301.25" width="1.80" height="1.25" fill="#6aa644"/>
<rect x="206.88" y="302.00" width="1.80" height="0.50" fill="#2d4a7c"/>
<rect x="208.25" y="220.43" width="1.80" height="82.07" fill="#a1002b"/>
<rect x="209.62" y="301.25" width="1.80" height="1.25" fill="#6aa644"/>
<rect x="210.99" y="302.00" width="1.80" height="0.50" fill="#2d4a7c"/>
<rect x="212.36" y="238.18" width="1.80" height="64.32" fill="#a1002b"/>
<rect x="213.73" y="301.25" width="1.80" height="1.25" fill="#6aa644"/>
<line x1="47.50" y1="190.50" x2="47.50" y2="303.00" stroke="#1a1a1a" stroke-width="1.35"/>
<line x1="44.10" y1="302.50" x2="47.50" y2="302.50" stroke="#1a1a1a" stroke-width="1.2"/>
<text transform="translate(41.40 304.80) scale(0.92 1)" font-size="6.9" text-anchor="end" text-rendering="geometricPrecision" font-weight="normal" fill="#222" stroke="#222" stroke-width="0.12">0.0</text>
<line x1="44.10" y1="271.37" x2="47.50" y2="271.37" stroke="#1a1a1a" stroke-width="1.2"/>
<text transform="translate(41.40 273.67) scale(0.92 1)" font-size="6.9" text-anchor="end" text-rendering="geometricPrecision" font-weight="normal" fill="#222" stroke="#222" stroke-width="0.12">0.5</text>
<line x1="44.10" y1="240.23" x2="47.50" y2="240.23" stroke="#1a1a1a" stroke-width="1.2"/>
<text transform="translate(41.40 242.53) scale(0.92 1)" font-size="6.9" text-anchor="end" text-rendering="geometricPrecision" font-weight="normal" fill="#222" stroke="#222" stroke-width="0.12">1.0</text>
<line x1="44.10" y1="209.09" x2="47.50" y2="209.09" stroke="#1a1a1a" stroke-width="1.2"/>
<text transform="translate(41.40 211.40) scale(0.92 1)" font-size="6.9" text-anchor="end" text-rendering="geometricPrecision" font-weight="normal" fill="#222" stroke="#222" stroke-width="0.12">1.5</text>
<line x1="47.00" y1="302.50" x2="215.70" y2="302.50" stroke="#1a1a1a" stroke-width="1.35"/>
<line x1="49.06" y1="302.50" x2="49.06" y2="305.70" stroke="#1a1a1a" stroke-width="1"/>
<text font-size="6.9" text-anchor="end" text-rendering="geometricPrecision" fill="#222" stroke="#222" stroke-width="0.12" transform="translate(51.86 311.90) rotate(-45) scale(0.9 1)">1</text>
<line x1="57.28" y1="302.50" x2="57.28" y2="305.70" stroke="#1a1a1a" stroke-width="1"/>
<text font-size="6.9" text-anchor="end" text-rendering="geometricPrecision" fill="#222" stroke="#222" stroke-width="0.12" transform="translate(60.08 311.90) rotate(-45) scale(0.9 1)">3</text>
<line x1="65.50" y1="302.50" x2="65.50" y2="305.70" stroke="#1a1a1a" stroke-width="1"/>
<text font-size="6.9" text-anchor="end" text-rendering="geometricPrecision" fill="#222" stroke="#222" stroke-width="0.12" transform="translate(68.30 311.90) rotate(-45) scale(0.9 1)">5</text>
<line x1="73.72" y1="302.50" x2="73.72" y2="305.70" stroke="#1a1a1a" stroke-width="1"/>
<text font-size="6.9" text-anchor="end" text-rendering="geometricPrecision" fill="#222" stroke="#222" stroke-width="0.12" transform="translate(76.52 311.90) rotate(-45) scale(0.9 1)">7</text>
<line x1="81.94" y1="302.50" x2="81.94" y2="305.70" stroke="#1a1a1a" stroke-width="1"/>
<text font-size="6.9" text-anchor="end" text-rendering="geometricPrecision" fill="#222" stroke="#222" stroke-width="0.12" transform="translate(84.74 311.90) rotate(-45) scale(0.9 1)">9</text>
<line x1="90.16" y1="302.50" x2="90.16" y2="305.70" stroke="#1a1a1a" stroke-width="1"/>
<text font-size="6.9" text-anchor="end" text-rendering="geometricPrecision" fill="#222" stroke="#222" stroke-width="0.12" transform="translate(92.96 311.90) rotate(-45) scale(0.9 1)">11</text>
<line x1="98.38" y1="302.50" x2="98.38" y2="305.70" stroke="#1a1a1a" stroke-width="1"/>
<text font-size="6.9" text-anchor="end" text-rendering="geometricPrecision" fill="#222" stroke="#222" stroke-width="0.12" transform="translate(101.18 311.90) rotate(-45) scale(0.9 1)">13</text>
<line x1="106.60" y1="302.50" x2="106.60" y2="305.70" stroke="#1a1a1a" stroke-width="1"/>
<text font-size="6.9" text-anchor="end" text-rendering="geometricPrecision" fill="#222" stroke="#222" stroke-width="0.12" transform="translate(109.40 311.90) rotate(-45) scale(0.9 1)">15</text>
<line x1="114.82" y1="302.50" x2="114.82" y2="305.70" stroke="#1a1a1a" stroke-width="1"/>
<text font-size="6.9" text-anchor="end" text-rendering="geometricPrecision" fill="#222" stroke="#222" stroke-width="0.12" transform="translate(117.62 311.90) rotate(-45) scale(0.9 1)">17</text>
<line x1="123.04" y1="302.50" x2="123.04" y2="305.70" stroke="#1a1a1a" stroke-width="1"/>
<text font-size="6.9" text-anchor="end" text-rendering="geometricPrecision" fill="#222" stroke="#222" stroke-width="0.12" transform="translate(125.84 311.90) rotate(-45) scale(0.9 1)">19</text>
<line x1="131.26" y1="302.50" x2="131.26" y2="305.70" stroke="#1a1a1a" stroke-width="1"/>
<text font-size="6.9" text-anchor="end" text-rendering="geometricPrecision" fill="#222" stroke="#222" stroke-width="0.12" transform="translate(134.06 311.90) rotate(-45) scale(0.9 1)">21</text>
<line x1="139.48" y1="302.50" x2="139.48" y2="305.70" stroke="#1a1a1a" stroke-width="1"/>
<text font-size="6.9" text-anchor="end" text-rendering="geometricPrecision" fill="#222" stroke="#222" stroke-width="0.12" transform="translate(142.28 311.90) rotate(-45) scale(0.9 1)">23</text>
<line x1="147.70" y1="302.50" x2="147.70" y2="305.70" stroke="#1a1a1a" stroke-width="1"/>
<text font-size="6.9" text-anchor="end" text-rendering="geometricPrecision" fill="#222" stroke="#222" stroke-width="0.12" transform="translate(150.50 311.90) rotate(-45) scale(0.9 1)">25</text>
<line x1="155.92" y1="302.50" x2="155.92" y2="305.70" stroke="#1a1a1a" stroke-width="1"/>
<text font-size="6.9" text-anchor="end" text-rendering="geometricPrecision" fill="#222" stroke="#222" stroke-width="0.12" transform="translate(158.72 311.90) rotate(-45) scale(0.9 1)">27</text>
<line x1="164.14" y1="302.50" x2="164.14" y2="305.70" stroke="#1a1a1a" stroke-width="1"/>
<text font-size="6.9" text-anchor="end" text-rendering="geometricPrecision" fill="#222" stroke="#222" stroke-width="0.12" transform="translate(166.94 311.90) rotate(-45) scale(0.9 1)">29</text>
<line x1="172.36" y1="302.50" x2="172.36" y2="305.70" stroke="#1a1a1a" stroke-width="1"/>
<text font-size="6.9" text-anchor="end" text-rendering="geometricPrecision" fill="#222" stroke="#222" stroke-width="0.12" transform="translate(175.16 311.90) rotate(-45) scale(0.9 1)">31</text>
<line x1="180.58" y1="302.50" x2="180.58" y2="305.70" stroke="#1a1a1a" stroke-width="1"/>
<text font-size="6.9" text-anchor="end" text-rendering="geometricPrecision" fill="#222" stroke="#222" stroke-width="0.12" transform="translate(183.38 311.90) rotate(-45) scale(0.9 1)">33</text>
<line x1="188.80" y1="302.50" x2="188.80" y2="305.70" stroke="#1a1a1a" stroke-width="1"/>
<text font-size="6.9" text-anchor="end" text-rendering="geometricPrecision" fill="#222" stroke="#222" stroke-width="0.12" transform="translate(191.60 311.90) rotate(-45) scale(0.9 1)">35</text>
<line x1="197.02" y1="302.50" x2="197.02" y2="305.70" stroke="#1a1a1a" stroke-width="1"/>
<text font-size="6.9" text-anchor="end" text-rendering="geometricPrecision" fill="#222" stroke="#222" stroke-width="0.12" transform="translate(199.82 311.90) rotate(-45) scale(0.9 1)">37</text>
<line x1="205.24" y1="302.50" x2="205.24" y2="305.70" stroke="#1a1a1a" stroke-width="1"/>
<text font-size="6.9" text-anchor="end" text-rendering="geometricPrecision" fill="#222" stroke="#222" stroke-width="0.12" transform="translate(208.04 311.90) rotate(-45) scale(0.9 1)">39</text>
<line x1="213.46" y1="302.50" x2="213.46" y2="305.70" stroke="#1a1a1a" stroke-width="1"/>
<text font-size="6.9" text-anchor="end" text-rendering="geometricPrecision" fill="#222" stroke="#222" stroke-width="0.12" transform="translate(216.26 311.90) rotate(-45) scale(0.9 1)">41</text>
<rect x="224.10" y="196.00" width="12.00" height="6.60" fill="#2d4a7c"/>
<text transform="translate(239.80 201.90) scale(0.95 1)" font-size="6.9" text-anchor="start" text-rendering="geometricPrecision" font-weight="normal" fill="#222" stroke="#222" stroke-width="0.12">IgA</text>
<rect x="224.10" y="207.80" width="12.00" height="6.60" fill="#a1002b"/>
<text transform="translate(239.80 213.70) scale(0.95 1)" font-size="6.9" text-anchor="start" text-rendering="geometricPrecision" font-weight="normal" fill="#222" stroke="#222" stroke-width="0.12">IgG</text>
<rect x="224.10" y="219.60" width="12.00" height="6.60" fill="#6aa644"/>
<text transform="translate(239.80 225.50) scale(0.95 1)" font-size="6.9" text-anchor="start" text-rendering="geometricPrecision" font-weight="normal" fill="#222" stroke="#222" stroke-width="0.12">IgM</text>
<text x="10.80" y="357.30" font-size="11.3" text-anchor="start" text-rendering="geometricPrecision" font-weight="bold" fill="#000" stroke="#000" stroke-width="0.3">C</text>
<text x="79.00" y="359.30" font-size="8.6" text-anchor="start" text-rendering="geometricPrecision" font-weight="normal" fill="#222" textLength="118.0" lengthAdjust="spacingAndGlyphs" stroke="#222" stroke-width="0.12">IgG-subclasses of Anti-LRPAP1</text>
<rect x="46.78" y="473.63" width="1.10" height="0.87" fill="#2d4a7c"/>
<rect x="47.79" y="473.32" width="1.10" height="1.18" fill="#a1002b"/>
<rect x="48.81" y="474.03" width="1.10" height="0.47" fill="#6aa644"/>
<rect x="49.82" y="473.55" width="1.10" height="0.95" fill="#522862"/>
<rect x="50.83" y="435.16" width="1.10" height="39.34" fill="#2d4a7c"/>
<rect x="51.84" y="473.87" width="1.10" height="0.63" fill="#a1002b"/>
<rect x="52.86" y="473.93" width="1.10" height="0.57" fill="#6aa644"/>
<rect x="53.87" y="473.99" width="1.10" height="0.51" fill="#522862"/>
<rect x="54.87" y="439.10" width="1.10" height="35.40" fill="#2d4a7c"/>
<rect x="55.88" y="473.21" width="1.10" height="1.29" fill="#a1002b"/>
<rect x="56.90" y="473.91" width="1.10" height="0.59" fill="#6aa644"/>
<rect x="57.91" y="473.78" width="1.10" height="0.72" fill="#522862"/>
<rect x="58.92" y="403.26" width="1.10" height="71.24" fill="#2d4a7c"/>
<rect x="59.93" y="473.63" width="1.10" height="0.87" fill="#a1002b"/>
<rect x="60.95" y="473.09" width="1.10" height="1.41" fill="#6aa644"/>
<rect x="61.96" y="473.97" width="1.10" height="0.53" fill="#522862"/>
<rect x="62.96" y="411.89" width="1.10" height="62.61" fill="#2d4a7c"/>
<rect x="63.97" y="473.56" width="1.10" height="0.94" fill="#a1002b"/>
<rect x="64.99" y="473.45" width="1.10" height="1.05" fill="#6aa644"/>
<rect x="66.00" y="473.08" width="1.10" height="1.42" fill="#522862"/>
<rect x="67.00" y="412.99" width="1.10" height="61.51" fill="#2d4a7c"/>
<rect x="68.01" y="473.15" width="1.10" height="1.35" fill="#a1002b"/>
<rect x="69.03" y="473.10" width="1.10" height="1.40" fill="#6aa644"/>
<rect x="70.04" y="473.75" width="1.10" height="0.75" fill="#522862"/>
<rect x="71.05" y="473.60" width="1.10" height="0.90" fill="#2d4a7c"/>
<rect x="72.06" y="392.11" width="1.10" height="82.39" fill="#a1002b"/>
<rect x="73.08" y="473.66" width="1.10" height="0.84" fill="#6aa644"/>
<rect x="74.09" y="473.08" width="1.10" height="1.42" fill="#522862"/>
<rect x="75.09" y="412.99" width="1.10" height="61.51" fill="#2d4a7c"/>
<rect x="76.10" y="473.00" width="1.10" height="1.50" fill="#a1002b"/>
<rect x="77.12" y="473.89" width="1.10" height="0.61" fill="#6aa644"/>
<rect x="78.13" y="473.86" width="1.10" height="0.64" fill="#522862"/>
<rect x="79.14" y="473.80" width="1.10" height="0.70" fill="#2d4a7c"/>
<rect x="80.15" y="390.87" width="1.10" height="83.63" fill="#a1002b"/>
<rect x="81.17" y="473.80" width="1.10" height="0.70" fill="#6aa644"/>
<rect x="82.18" y="473.52" width="1.10" height="0.98" fill="#522862"/>
<rect x="83.18" y="409.28" width="1.10" height="65.22" fill="#2d4a7c"/>
<rect x="84.19" y="473.41" width="1.10" height="1.09" fill="#a1002b"/>
<rect x="85.21" y="473.77" width="1.10" height="0.73" fill="#6aa644"/>
<rect x="86.22" y="474.05" width="1.10" height="0.45" fill="#522862"/>
<rect x="87.22" y="414.05" width="1.10" height="60.45" fill="#2d4a7c"/>
<rect x="88.23" y="473.59" width="1.10" height="0.91" fill="#a1002b"/>
<rect x="89.25" y="473.65" width="1.10" height="0.85" fill="#6aa644"/>
<rect x="90.26" y="473.43" width="1.10" height="1.07" fill="#522862"/>
<rect x="91.27" y="409.45" width="1.10" height="65.05" fill="#2d4a7c"/>
<rect x="92.28" y="473.00" width="1.10" height="1.50" fill="#a1002b"/>
<rect x="93.30" y="473.29" width="1.10" height="1.21" fill="#6aa644"/>
<rect x="94.31" y="473.49" width="1.10" height="1.01" fill="#522862"/>
<rect x="95.31" y="419.63" width="1.10" height="54.87" fill="#2d4a7c"/>
<rect x="96.32" y="473.37" width="1.10" height="1.13" fill="#a1002b"/>
<rect x="97.34" y="473.31" width="1.10" height="1.19" fill="#6aa644"/>
<rect x="98.35" y="474.00" width="1.10" height="0.50" fill="#522862"/>
<rect x="99.36" y="473.06" width="1.10" height="1.44" fill="#2d4a7c"/>
<rect x="100.37" y="473.19" width="1.10" height="1.31" fill="#a1002b"/>
<rect x="101.39" y="407.24" width="1.10" height="67.26" fill="#6aa644"/>
<rect x="102.40" y="473.09" width="1.10" height="1.41" fill="#522862"/>
<rect x="103.40" y="414.45" width="1.10" height="60.05" fill="#2d4a7c"/>
<rect x="104.41" y="473.17" width="1.10" height="1.33" fill="#a1002b"/>
<rect x="105.43" y="473.62" width="1.10" height="0.88" fill="#6aa644"/>
<rect x="106.44" y="473.62" width="1.10" height="0.88" fill="#522862"/>
<rect x="107.44" y="422.46" width="1.10" height="52.04" fill="#2d4a7c"/>
<rect x="108.45" y="473.94" width="1.10" height="0.56" fill="#a1002b"/>
<rect x="109.47" y="473.36" width="1.10" height="1.14" fill="#6aa644"/>
<rect x="110.48" y="473.99" width="1.10" height="0.51" fill="#522862"/>
<rect x="111.49" y="473.98" width="1.10" height="0.52" fill="#2d4a7c"/>
<rect x="112.50" y="473.83" width="1.10" height="0.67" fill="#a1002b"/>
<rect x="113.52" y="473.88" width="1.10" height="0.62" fill="#6aa644"/>
<rect x="114.53" y="473.68" width="1.10" height="0.82" fill="#522862"/>
<rect x="115.53" y="474.00" width="1.10" height="0.50" fill="#2d4a7c"/>
<rect x="116.54" y="474.06" width="1.10" height="0.44" fill="#a1002b"/>
<rect x="117.56" y="473.89" width="1.10" height="0.61" fill="#6aa644"/>
<rect x="118.57" y="473.95" width="1.10" height="0.55" fill="#522862"/>
<rect x="119.58" y="473.66" width="1.10" height="0.84" fill="#2d4a7c"/>
<rect x="120.59" y="395.74" width="1.10" height="78.76" fill="#a1002b"/>
<rect x="121.61" y="474.03" width="1.10" height="0.47" fill="#6aa644"/>
<rect x="122.62" y="473.09" width="1.10" height="1.41" fill="#522862"/>
<rect x="123.62" y="419.36" width="1.10" height="55.14" fill="#2d4a7c"/>
<rect x="124.63" y="473.38" width="1.10" height="1.12" fill="#a1002b"/>
<rect x="125.65" y="473.89" width="1.10" height="0.61" fill="#6aa644"/>
<rect x="126.66" y="473.78" width="1.10" height="0.72" fill="#522862"/>
<rect x="127.66" y="418.08" width="1.10" height="56.42" fill="#2d4a7c"/>
<rect x="128.67" y="473.67" width="1.10" height="0.83" fill="#a1002b"/>
<rect x="129.69" y="473.65" width="1.10" height="0.85" fill="#6aa644"/>
<rect x="130.70" y="473.92" width="1.10" height="0.58" fill="#522862"/>
<rect x="131.71" y="473.12" width="1.10" height="1.38" fill="#2d4a7c"/>
<rect x="132.72" y="388.48" width="1.10" height="86.02" fill="#a1002b"/>
<rect x="133.74" y="472.96" width="1.10" height="1.54" fill="#6aa644"/>
<rect x="134.75" y="473.54" width="1.10" height="0.96" fill="#522862"/>
<rect x="135.75" y="473.52" width="1.10" height="0.98" fill="#2d4a7c"/>
<rect x="136.76" y="473.96" width="1.10" height="0.54" fill="#a1002b"/>
<rect x="137.78" y="406.49" width="1.10" height="68.01" fill="#6aa644"/>
<rect x="138.79" y="473.94" width="1.10" height="0.56" fill="#522862"/>
<rect x="139.80" y="407.02" width="1.10" height="67.48" fill="#2d4a7c"/>
<rect x="140.81" y="473.68" width="1.10" height="0.82" fill="#a1002b"/>
<rect x="141.83" y="473.76" width="1.10" height="0.74" fill="#6aa644"/>
<rect x="142.84" y="473.14" width="1.10" height="1.36" fill="#522862"/>
<rect x="143.84" y="407.59" width="1.10" height="66.91" fill="#2d4a7c"/>
<rect x="144.85" y="473.88" width="1.10" height="0.62" fill="#a1002b"/>
<rect x="145.87" y="474.03" width="1.10" height="0.47" fill="#6aa644"/>
<rect x="146.88" y="473.01" width="1.10" height="1.49" fill="#522862"/>
<rect x="147.88" y="473.47" width="1.10" height="1.03" fill="#2d4a7c"/>
<rect x="148.89" y="473.90" width="1.10" height="0.60" fill="#a1002b"/>
<rect x="149.91" y="410.12" width="1.10" height="64.38" fill="#6aa644"/>
<rect x="150.92" y="473.46" width="1.10" height="1.04" fill="#522862"/>
<rect x="151.93" y="408.57" width="1.10" height="65.93" fill="#2d4a7c"/>
<rect x="152.94" y="474.03" width="1.10" height="0.47" fill="#a1002b"/>
<rect x="153.96" y="473.47" width="1.10" height="1.03" fill="#6aa644"/>
<rect x="154.97" y="472.98" width="1.10" height="1.52" fill="#522862"/>
<rect x="155.97" y="423.39" width="1.10" height="51.11" fill="#2d4a7c"/>
<rect x="156.98" y="473.10" width="1.10" height="1.40" fill="#a1002b"/>
<rect x="158.00" y="473.29" width="1.10" height="1.21" fill="#6aa644"/>
<rect x="159.01" y="473.77" width="1.10" height="0.73" fill="#522862"/>
<rect x="160.02" y="473.65" width="1.10" height="0.85" fill="#2d4a7c"/>
<rect x="161.03" y="403.26" width="1.10" height="71.24" fill="#a1002b"/>
<rect x="162.05" y="473.87" width="1.10" height="0.63" fill="#6aa644"/>
<rect x="163.06" y="473.20" width="1.10" height="1.30" fill="#522862"/>
<rect x="164.06" y="473.47" width="1.10" height="1.03" fill="#2d4a7c"/>
<rect x="165.07" y="473.20" width="1.10" height="1.30" fill="#a1002b"/>
<rect x="166.09" y="473.69" width="1.10" height="0.81" fill="#6aa644"/>
<rect x="167.10" y="413.57" width="1.10" height="60.93" fill="#522862"/>
<rect x="168.10" y="421.84" width="1.10" height="52.66" fill="#2d4a7c"/>
<rect x="169.11" y="473.81" width="1.10" height="0.69" fill="#a1002b"/>
<rect x="170.13" y="473.16" width="1.10" height="1.34" fill="#6aa644"/>
<rect x="171.14" y="472.97" width="1.10" height="1.53" fill="#522862"/>
<rect x="172.15" y="410.47" width="1.10" height="64.03" fill="#2d4a7c"/>
<rect x="173.16" y="473.11" width="1.10" height="1.39" fill="#a1002b"/>
<rect x="174.18" y="473.17" width="1.10" height="1.33" fill="#6aa644"/>
<rect x="175.19" y="473.15" width="1.10" height="1.35" fill="#522862"/>
<rect x="176.19" y="435.12" width="1.10" height="39.38" fill="#2d4a7c"/>
<rect x="177.20" y="473.24" width="1.10" height="1.26" fill="#a1002b"/>
<rect x="178.22" y="473.81" width="1.10" height="0.69" fill="#6aa644"/>
<rect x="179.23" y="473.48" width="1.10" height="1.02" fill="#522862"/>
<rect x="180.24" y="400.16" width="1.10" height="74.34" fill="#2d4a7c"/>
<rect x="181.25" y="473.66" width="1.10" height="0.84" fill="#a1002b"/>
<rect x="182.27" y="474.03" width="1.10" height="0.47" fill="#6aa644"/>
<rect x="183.28" y="474.03" width="1.10" height="0.47" fill="#522862"/>
<rect x="184.28" y="473.75" width="1.10" height="0.75" fill="#2d4a7c"/>
<rect x="185.29" y="473.77" width="1.10" height="0.73" fill="#a1002b"/>
<rect x="186.31" y="409.98" width="1.10" height="64.52" fill="#6aa644"/>
<rect x="187.32" y="473.29" width="1.10" height="1.21" fill="#522862"/>
<rect x="188.32" y="432.90" width="1.10" height="41.60" fill="#2d4a7c"/>
<rect x="189.33" y="473.00" width="1.10" height="1.50" fill="#a1002b"/>
<rect x="190.35" y="473.56" width="1.10" height="0.94" fill="#6aa644"/>
<rect x="191.36" y="473.02" width="1.10" height="1.48" fill="#522862"/>
<rect x="192.37" y="472.96" width="1.10" height="1.54" fill="#2d4a7c"/>
<rect x="193.38" y="473.00" width="1.10" height="1.50" fill="#a1002b"/>
<rect x="194.40" y="473.65" width="1.10" height="0.85" fill="#6aa644"/>
<rect x="195.41" y="473.81" width="1.10" height="0.69" fill="#522862"/>
<rect x="196.41" y="415.29" width="1.10" height="59.21" fill="#2d4a7c"/>
<rect x="197.42" y="473.81" width="1.10" height="0.69" fill="#a1002b"/>
<rect x="198.44" y="473.84" width="1.10" height="0.66" fill="#6aa644"/>
<rect x="199.45" y="473.83" width="1.10" height="0.67" fill="#522862"/>
<rect x="200.46" y="473.37" width="1.10" height="1.13" fill="#2d4a7c"/>
<rect x="201.47" y="410.16" width="1.10" height="64.34" fill="#a1002b"/>
<rect x="202.49" y="473.06" width="1.10" height="1.44" fill="#6aa644"/>
<rect x="203.50" y="473.13" width="1.10" height="1.37" fill="#522862"/>
<rect x="204.50" y="408.57" width="1.10" height="65.93" fill="#2d4a7c"/>
<rect x="205.51" y="473.53" width="1.10" height="0.97" fill="#a1002b"/>
<rect x="206.53" y="473.34" width="1.10" height="1.16" fill="#6aa644"/>
<rect x="207.54" y="473.17" width="1.10" height="1.33" fill="#522862"/>
<rect x="208.54" y="473.96" width="1.10" height="0.54" fill="#2d4a7c"/>
<rect x="209.55" y="395.91" width="1.10" height="78.59" fill="#a1002b"/>
<rect x="210.57" y="473.33" width="1.10" height="1.17" fill="#6aa644"/>
<rect x="211.58" y="473.05" width="1.10" height="1.45" fill="#522862"/>
<line x1="47.60" y1="360.80" x2="47.60" y2="474.80" stroke="#1a1a1a" stroke-width="1.35"/>
<line x1="44.20" y1="474.50" x2="47.60" y2="474.50" stroke="#1a1a1a" stroke-width="1.2"/>
<text transform="translate(41.40 476.80) scale(0.92 1)" font-size="6.9" text-anchor="end" text-rendering="geometricPrecision" font-weight="normal" fill="#222" stroke="#222" stroke-width="0.12">0.0</text>
<line x1="44.20" y1="452.38" x2="47.60" y2="452.38" stroke="#1a1a1a" stroke-width="1.2"/>
<text transform="translate(41.40 454.68) scale(0.92 1)" font-size="6.9" text-anchor="end" text-rendering="geometricPrecision" font-weight="normal" fill="#222" stroke="#222" stroke-width="0.12">0.5</text>
<line x1="44.20" y1="430.25" x2="47.60" y2="430.25" stroke="#1a1a1a" stroke-width="1.2"/>
<text transform="translate(41.40 432.55) scale(0.92 1)" font-size="6.9" text-anchor="end" text-rendering="geometricPrecision" font-weight="normal" fill="#222" stroke="#222" stroke-width="0.12">1.0</text>
<line x1="44.20" y1="408.12" x2="47.60" y2="408.12" stroke="#1a1a1a" stroke-width="1.2"/>
<text transform="translate(41.40 410.43) scale(0.92 1)" font-size="6.9" text-anchor="end" text-rendering="geometricPrecision" font-weight="normal" fill="#222" stroke="#222" stroke-width="0.12">1.5</text>
<line x1="44.20" y1="386.00" x2="47.60" y2="386.00" stroke="#1a1a1a" stroke-width="1.2"/>
<text transform="translate(41.40 388.30) scale(0.92 1)" font-size="6.9" text-anchor="end" text-rendering="geometricPrecision" font-weight="normal" fill="#222" stroke="#222" stroke-width="0.12">2.0</text>
<line x1="44.20" y1="363.88" x2="47.60" y2="363.88" stroke="#1a1a1a" stroke-width="1.2"/>
<text transform="translate(41.40 366.18) scale(0.92 1)" font-size="6.9" text-anchor="end" text-rendering="geometricPrecision" font-weight="normal" fill="#222" stroke="#222" stroke-width="0.12">2.5</text>
<line x1="47.10" y1="474.30" x2="212.70" y2="474.30" stroke="#1a1a1a" stroke-width="1.35"/>
<line x1="48.85" y1="474.30" x2="48.85" y2="477.50" stroke="#1a1a1a" stroke-width="1"/>
<text font-size="6.9" text-anchor="end" text-rendering="geometricPrecision" fill="#222" stroke="#222" stroke-width="0.12" transform="translate(51.65 483.70) rotate(-45) scale(0.9 1)">1</text>
<line x1="56.94" y1="474.30" x2="56.94" y2="477.50" stroke="#1a1a1a" stroke-width="1"/>
<text font-size="6.9" text-anchor="end" text-rendering="geometricPrecision" fill="#222" stroke="#222" stroke-width="0.12" transform="translate(59.74 483.70) rotate(-45) scale(0.9 1)">3</text>
<line x1="65.03" y1="474.30" x2="65.03" y2="477.50" stroke="#1a1a1a" stroke-width="1"/>
<text font-size="6.9" text-anchor="end" text-rendering="geometricPrecision" fill="#222" stroke="#222" stroke-width="0.12" transform="translate(67.83 483.70) rotate(-45) scale(0.9 1)">5</text>
<line x1="73.12" y1="474.30" x2="73.12" y2="477.50" stroke="#1a1a1a" stroke-width="1"/>
<text font-size="6.9" text-anchor="end" text-rendering="geometricPrecision" fill="#222" stroke="#222" stroke-width="0.12" transform="translate(75.92 483.70) rotate(-45) scale(0.9 1)">7</text>
<line x1="81.21" y1="474.30" x2="81.21" y2="477.50" stroke="#1a1a1a" stroke-width="1"/>
<text font-size="6.9" text-anchor="end" text-rendering="geometricPrecision" fill="#222" stroke="#222" stroke-width="0.12" transform="translate(84.01 483.70) rotate(-45) scale(0.9 1)">9</text>
<line x1="89.29" y1="474.30" x2="89.29" y2="477.50" stroke="#1a1a1a" stroke-width="1"/>
<text font-size="6.9" text-anchor="end" text-rendering="geometricPrecision" fill="#222" stroke="#222" stroke-width="0.12" transform="translate(92.09 483.70) rotate(-45) scale(0.9 1)">11</text>
<line x1="97.38" y1="474.30" x2="97.38" y2="477.50" stroke="#1a1a1a" stroke-width="1"/>
<text font-size="6.9" text-anchor="end" text-rendering="geometricPrecision" fill="#222" stroke="#222" stroke-width="0.12" transform="translate(100.18 483.70) rotate(-45) scale(0.9 1)">13</text>
<line x1="105.47" y1="474.30" x2="105.47" y2="477.50" stroke="#1a1a1a" stroke-width="1"/>
<text font-size="6.9" text-anchor="end" text-rendering="geometricPrecision" fill="#222" stroke="#222" stroke-width="0.12" transform="translate(108.27 483.70) rotate(-45) scale(0.9 1)">15</text>
<line x1="113.56" y1="474.30" x2="113.56" y2="477.50" stroke="#1a1a1a" stroke-width="1"/>
<text font-size="6.9" text-anchor="end" text-rendering="geometricPrecision" fill="#222" stroke="#222" stroke-width="0.12" transform="translate(116.36 483.70) rotate(-45) scale(0.9 1)">17</text>
<line x1="121.65" y1="474.30" x2="121.65" y2="477.50" stroke="#1a1a1a" stroke-width="1"/>
<text font-size="6.9" text-anchor="end" text-rendering="geometricPrecision" fill="#222" stroke="#222" stroke-width="0.12" transform="translate(124.45 483.70) rotate(-45) scale(0.9 1)">19</text>
<line x1="129.73" y1="474.30" x2="129.73" y2="477.50" stroke="#1a1a1a" stroke-width="1"/>
<text font-size="6.9" text-anchor="end" text-rendering="geometricPrecision" fill="#222" stroke="#222" stroke-width="0.12" transform="translate(132.53 483.70) rotate(-45) scale(0.9 1)">21</text>
<line x1="137.82" y1="474.30" x2="137.82" y2="477.50" stroke="#1a1a1a" stroke-width="1"/>
<text font-size="6.9" text-anchor="end" text-rendering="geometricPrecision" fill="#222" stroke="#222" stroke-width="0.12" transform="translate(140.62 483.70) rotate(-45) scale(0.9 1)">23</text>
<line x1="145.91" y1="474.30" x2="145.91" y2="477.50" stroke="#1a1a1a" stroke-width="1"/>
<text font-size="6.9" text-anchor="end" text-rendering="geometricPrecision" fill="#222" stroke="#222" stroke-width="0.12" transform="translate(148.71 483.70) rotate(-45) scale(0.9 1)">25</text>
<line x1="154.00" y1="474.30" x2="154.00" y2="477.50" stroke="#1a1a1a" stroke-width="1"/>
<text font-size="6.9" text-anchor="end" text-rendering="geometricPrecision" fill="#222" stroke="#222" stroke-width="0.12" transform="translate(156.80 483.70) rotate(-45) scale(0.9 1)">27</text>
<line x1="162.09" y1="474.30" x2="162.09" y2="477.50" stroke="#1a1a1a" stroke-width="1"/>
<text font-size="6.9" text-anchor="end" text-rendering="geometricPrecision" fill="#222" stroke="#222" stroke-width="0.12" transform="translate(164.89 483.70) rotate(-45) scale(0.9 1)">29</text>
<line x1="170.17" y1="474.30" x2="170.17" y2="477.50" stroke="#1a1a1a" stroke-width="1"/>
<text font-size="6.9" text-anchor="end" text-rendering="geometricPrecision" fill="#222" stroke="#222" stroke-width="0.12" transform="translate(172.97 483.70) rotate(-45) scale(0.9 1)">31</text>
<line x1="178.26" y1="474.30" x2="178.26" y2="477.50" stroke="#1a1a1a" stroke-width="1"/>
<text font-size="6.9" text-anchor="end" text-rendering="geometricPrecision" fill="#222" stroke="#222" stroke-width="0.12" transform="translate(181.06 483.70) rotate(-45) scale(0.9 1)">33</text>
<line x1="186.35" y1="474.30" x2="186.35" y2="477.50" stroke="#1a1a1a" stroke-width="1"/>
<text font-size="6.9" text-anchor="end" text-rendering="geometricPrecision" fill="#222" stroke="#222" stroke-width="0.12" transform="translate(189.15 483.70) rotate(-45) scale(0.9 1)">35</text>
<line x1="194.44" y1="474.30" x2="194.44" y2="477.50" stroke="#1a1a1a" stroke-width="1"/>
<text font-size="6.9" text-anchor="end" text-rendering="geometricPrecision" fill="#222" stroke="#222" stroke-width="0.12" transform="translate(197.24 483.70) rotate(-45) scale(0.9 1)">37</text>
<line x1="202.53" y1="474.30" x2="202.53" y2="477.50" stroke="#1a1a1a" stroke-width="1"/>
<text font-size="6.9" text-anchor="end" text-rendering="geometricPrecision" fill="#222" stroke="#222" stroke-width="0.12" transform="translate(205.33 483.70) rotate(-45) scale(0.9 1)">39</text>
<line x1="210.61" y1="474.30" x2="210.61" y2="477.50" stroke="#1a1a1a" stroke-width="1"/>
<text font-size="6.9" text-anchor="end" text-rendering="geometricPrecision" fill="#222" stroke="#222" stroke-width="0.12" transform="translate(213.41 483.70) rotate(-45) scale(0.9 1)">41</text>
<rect x="222.80" y="369.40" width="12.30" height="6.80" fill="#2d4a7c"/>
<text transform="translate(238.30 375.40) scale(0.95 1)" font-size="6.9" text-anchor="start" text-rendering="geometricPrecision" font-weight="normal" fill="#222" stroke="#222" stroke-width="0.12">IgG1</text>
<rect x="222.80" y="381.27" width="12.30" height="6.80" fill="#a1002b"/>
<text transform="translate(238.30 387.27) scale(0.95 1)" font-size="6.9" text-anchor="start" text-rendering="geometricPrecision" font-weight="normal" fill="#222" stroke="#222" stroke-width="0.12">IgG2</text>
<rect x="222.80" y="393.14" width="12.30" height="6.80" fill="#6aa644"/>
<text transform="translate(238.30 399.14) scale(0.95 1)" font-size="6.9" text-anchor="start" text-rendering="geometricPrecision" font-weight="normal" fill="#222" stroke="#222" stroke-width="0.12">IgG3</text>
<rect x="222.80" y="405.01" width="12.30" height="6.80" fill="#522862"/>
<text transform="translate(238.30 411.01) scale(0.95 1)" font-size="6.9" text-anchor="start" text-rendering="geometricPrecision" font-weight="normal" fill="#222" stroke="#222" stroke-width="0.12">IgG4</text>
<text x="271.80" y="185.30" font-size="11.3" text-anchor="start" text-rendering="geometricPrecision" font-weight="bold" fill="#000" stroke="#000" stroke-width="0.3">E</text>
<text x="339.50" y="187.30" font-size="8.6" text-anchor="start" text-rendering="geometricPrecision" font-weight="normal" fill="#222" textLength="97.9" lengthAdjust="spacingAndGlyphs" stroke="#222" stroke-width="0.12">Titer of LRPAP1-antibody</text>
<line x1="308.50" y1="193.00" x2="308.50" y2="302.90" stroke="#1a1a1a" stroke-width="1.35"/>
<line x1="305.10" y1="302.50" x2="308.50" y2="302.50" stroke="#1a1a1a" stroke-width="1.2"/>
<text transform="translate(302.40 304.80) scale(0.92 1)" font-size="6.9" text-anchor="end" text-rendering="geometricPrecision" font-weight="normal" fill="#222" stroke="#222" stroke-width="0.12">0.0</text>
<line x1="305.10" y1="275.77" x2="308.50" y2="275.77" stroke="#1a1a1a" stroke-width="1.2"/>
<text transform="translate(302.40 278.07) scale(0.92 1)" font-size="6.9" text-anchor="end" text-rendering="geometricPrecision" font-weight="normal" fill="#222" stroke="#222" stroke-width="0.12">0.5</text>
<line x1="305.10" y1="249.05" x2="308.50" y2="249.05" stroke="#1a1a1a" stroke-width="1.2"/>
<text transform="translate(302.40 251.35) scale(0.92 1)" font-size="6.9" text-anchor="end" text-rendering="geometricPrecision" font-weight="normal" fill="#222" stroke="#222" stroke-width="0.12">1.0</text>
<line x1="305.10" y1="222.32" x2="308.50" y2="222.32" stroke="#1a1a1a" stroke-width="1.2"/>
<text transform="translate(302.40 224.62) scale(0.92 1)" font-size="6.9" text-anchor="end" text-rendering="geometricPrecision" font-weight="normal" fill="#222" stroke="#222" stroke-width="0.12">1.5</text>
<line x1="305.10" y1="195.60" x2="308.50" y2="195.60" stroke="#1a1a1a" stroke-width="1.2"/>
<text transform="translate(302.40 197.90) scale(0.92 1)" font-size="6.9" text-anchor="end" text-rendering="geometricPrecision" font-weight="normal" fill="#222" stroke="#222" stroke-width="0.12">2.0</text>
<line x1="308.00" y1="302.40" x2="468.00" y2="302.40" stroke="#1a1a1a" stroke-width="1.35"/>
<line x1="323.00" y1="302.40" x2="323.00" y2="305.60" stroke="#1a1a1a" stroke-width="1"/>
<text font-size="6.9" text-anchor="end" text-rendering="geometricPrecision" fill="#222" stroke="#222" stroke-width="0.12" transform="translate(326.60 311.30) rotate(-45) scale(0.9 1)">1:100</text>
<line x1="344.80" y1="302.40" x2="344.80" y2="305.60" stroke="#1a1a1a" stroke-width="1"/>
<text font-size="6.9" text-anchor="end" text-rendering="geometricPrecision" fill="#222" stroke="#222" stroke-width="0.12" transform="translate(348.40 311.30) rotate(-45) scale(0.9 1)">1:200</text>
<line x1="366.60" y1="302.40" x2="366.60" y2="305.60" stroke="#1a1a1a" stroke-width="1"/>
<text font-size="6.9" text-anchor="end" text-rendering="geometricPrecision" fill="#222" stroke="#222" stroke-width="0.12" transform="translate(370.20 311.30) rotate(-45) scale(0.9 1)">1:400</text>
<line x1="388.40" y1="302.40" x2="388.40" y2="305.60" stroke="#1a1a1a" stroke-width="1"/>
<text font-size="6.9" text-anchor="end" text-rendering="geometricPrecision" fill="#222" stroke="#222" stroke-width="0.12" transform="translate(392.00 311.30) rotate(-45) scale(0.9 1)">1:800</text>
<line x1="410.20" y1="302.40" x2="410.20" y2="305.60" stroke="#1a1a1a" stroke-width="1"/>
<text font-size="6.9" text-anchor="end" text-rendering="geometricPrecision" fill="#222" stroke="#222" stroke-width="0.12" transform="translate(413.80 311.30) rotate(-45) scale(0.9 1)">1:1600</text>
<line x1="432.00" y1="302.40" x2="432.00" y2="305.60" stroke="#1a1a1a" stroke-width="1"/>
<text font-size="6.9" text-anchor="end" text-rendering="geometricPrecision" fill="#222" stroke="#222" stroke-width="0.12" transform="translate(435.60 311.30) rotate(-45) scale(0.9 1)">1:3200</text>
<line x1="453.80" y1="302.40" x2="453.80" y2="305.60" stroke="#1a1a1a" stroke-width="1"/>
<text font-size="6.9" text-anchor="end" text-rendering="geometricPrecision" fill="#222" stroke="#222" stroke-width="0.12" transform="translate(457.40 311.30) rotate(-45) scale(0.9 1)">1:6400</text>
<polyline points="323.00,230.56 344.80,229.81 366.60,285.61 388.40,285.24 410.20,292.77 432.00,295.07 453.80,300.09" fill="none" stroke="#2d4a7c" stroke-width="1.2"/>
<circle cx="323.00" cy="230.56" r="2.3" fill="#2d4a7c"/>
<circle cx="344.80" cy="229.81" r="2.3" fill="#2d4a7c"/>
<circle cx="366.60" cy="285.61" r="2.3" fill="#2d4a7c"/>
<circle cx="388.40" cy="285.24" r="2.3" fill="#2d4a7c"/>
<circle cx="410.20" cy="292.77" r="2.3" fill="#2d4a7c"/>
<circle cx="432.00" cy="295.07" r="2.3" fill="#2d4a7c"/>
<circle cx="453.80" cy="300.09" r="2.3" fill="#2d4a7c"/>
<polyline points="323.00,242.21 344.80,268.88 366.60,287.69 388.40,292.34 410.20,296.94 432.00,299.83 453.80,300.09" fill="none" stroke="#a1002b" stroke-width="1.2"/>
<rect x="320.95" y="240.16" width="4.10" height="4.10" fill="#a1002b"/>
<rect x="342.75" y="266.83" width="4.10" height="4.10" fill="#a1002b"/>
<rect x="364.55" y="285.64" width="4.10" height="4.10" fill="#a1002b"/>
<rect x="386.35" y="290.29" width="4.10" height="4.10" fill="#a1002b"/>
<rect x="408.15" y="294.89" width="4.10" height="4.10" fill="#a1002b"/>
<rect x="429.95" y="297.78" width="4.10" height="4.10" fill="#a1002b"/>
<rect x="451.75" y="298.04" width="4.10" height="4.10" fill="#a1002b"/>
<polyline points="323.00,201.27 344.80,280.64 366.60,282.24 388.40,289.67 410.20,295.55 432.00,300.74 453.80,300.36" fill="none" stroke="#6aa644" stroke-width="1.2"/>
<polygon points="323.00,198.67 325.40,202.97 320.60,202.97" fill="#6aa644"/>
<polygon points="344.80,278.04 347.20,282.34 342.40,282.34" fill="#6aa644"/>
<polygon points="366.60,279.64 369.00,283.94 364.20,283.94" fill="#6aa644"/>
<polygon points="388.40,287.07 390.80,291.37 386.00,291.37" fill="#6aa644"/>
<polygon points="410.20,292.95 412.60,297.25 407.80,297.25" fill="#6aa644"/>
<polygon points="432.00,298.14 434.40,302.44 429.60,302.44" fill="#6aa644"/>
<polygon points="453.80,297.76 456.20,302.06 451.40,302.06" fill="#6aa644"/>
<polyline points="323.00,235.85 344.80,240.71 366.60,274.60 388.40,285.50 410.20,296.09 432.00,299.61 453.80,300.09" fill="none" stroke="#522862" stroke-width="1.2"/>
<polygon points="323.00,238.45 325.40,234.15 320.60,234.15" fill="#522862"/>
<polygon points="344.80,243.31 347.20,239.01 342.40,239.01" fill="#522862"/>
<polygon points="366.60,277.20 369.00,272.90 364.20,272.90" fill="#522862"/>
<polygon points="388.40,288.10 390.80,283.80 386.00,283.80" fill="#522862"/>
<polygon points="410.20,298.69 412.60,294.39 407.80,294.39" fill="#522862"/>
<polygon points="432.00,302.21 434.40,297.91 429.60,297.91" fill="#522862"/>
<polygon points="453.80,302.69 456.20,298.39 451.40,298.39" fill="#522862"/>
<polyline points="323.00,236.65 344.80,259.47 366.60,279.84 388.40,288.23 410.20,294.27 432.00,297.32 453.80,299.93" fill="none" stroke="#e08c12" stroke-width="1.2"/>
<polygon points="323.00,234.25 324.90,236.65 323.00,239.05 321.10,236.65" fill="#e08c12"/>
<polygon points="344.80,257.07 346.70,259.47 344.80,261.87 342.90,259.47" fill="#e08c12"/>
<polygon points="366.60,277.44 368.50,279.84 366.60,282.24 364.70,279.84" fill="#e08c12"/>
<polygon points="388.40,285.83 390.30,288.23 388.40,290.63 386.50,288.23" fill="#e08c12"/>
<polygon points="410.20,291.87 412.10,294.27 410.20,296.67 408.30,294.27" fill="#e08c12"/>
<polygon points="432.00,294.92 433.90,297.32 432.00,299.72 430.10,297.32" fill="#e08c12"/>
<polygon points="453.80,297.53 455.70,299.93 453.80,302.33 451.90,299.93" fill="#e08c12"/>
<line x1="470.30" y1="212.00" x2="482.70" y2="212.00" stroke="#2d4a7c" stroke-width="1.1"/>
<circle cx="476.60" cy="212.00" r="2.3" fill="#2d4a7c"/>
<text transform="translate(485.80 214.30) scale(0.95 1)" font-size="6.9" text-anchor="start" text-rendering="geometricPrecision" font-weight="normal" fill="#222" stroke="#222" stroke-width="0.12">2</text>
<line x1="470.30" y1="223.75" x2="482.70" y2="223.75" stroke="#a1002b" stroke-width="1.1"/>
<rect x="474.55" y="221.70" width="4.10" height="4.10" fill="#a1002b"/>
<text transform="translate(485.80 226.05) scale(0.95 1)" font-size="6.9" text-anchor="start" text-rendering="geometricPrecision" font-weight="normal" fill="#222" stroke="#222" stroke-width="0.12">14</text>
<line x1="470.30" y1="235.50" x2="482.70" y2="235.50" stroke="#6aa644" stroke-width="1.1"/>
<polygon points="476.60,232.90 479.00,237.20 474.20,237.20" fill="#6aa644"/>
<text transform="translate(485.80 237.80) scale(0.95 1)" font-size="6.9" text-anchor="start" text-rendering="geometricPrecision" font-weight="normal" fill="#222" stroke="#222" stroke-width="0.12">17</text>
<line x1="470.30" y1="247.25" x2="482.70" y2="247.25" stroke="#522862" stroke-width="1.1"/>
<polygon points="476.60,249.85 479.00,245.55 474.20,245.55" fill="#522862"/>
<text transform="translate(485.80 249.55) scale(0.95 1)" font-size="6.9" text-anchor="start" text-rendering="geometricPrecision" font-weight="normal" fill="#222" stroke="#222" stroke-width="0.12">28</text>
<line x1="470.30" y1="259.00" x2="482.70" y2="259.00" stroke="#e08c12" stroke-width="1.1"/>
<polygon points="476.60,256.60 478.50,259.00 476.60,261.40 474.70,259.00" fill="#e08c12"/>
<text transform="translate(485.80 261.30) scale(0.95 1)" font-size="6.9" text-anchor="start" text-rendering="geometricPrecision" font-weight="normal" fill="#222" stroke="#222" stroke-width="0.12">35</text>
</svg>
</body></html>
